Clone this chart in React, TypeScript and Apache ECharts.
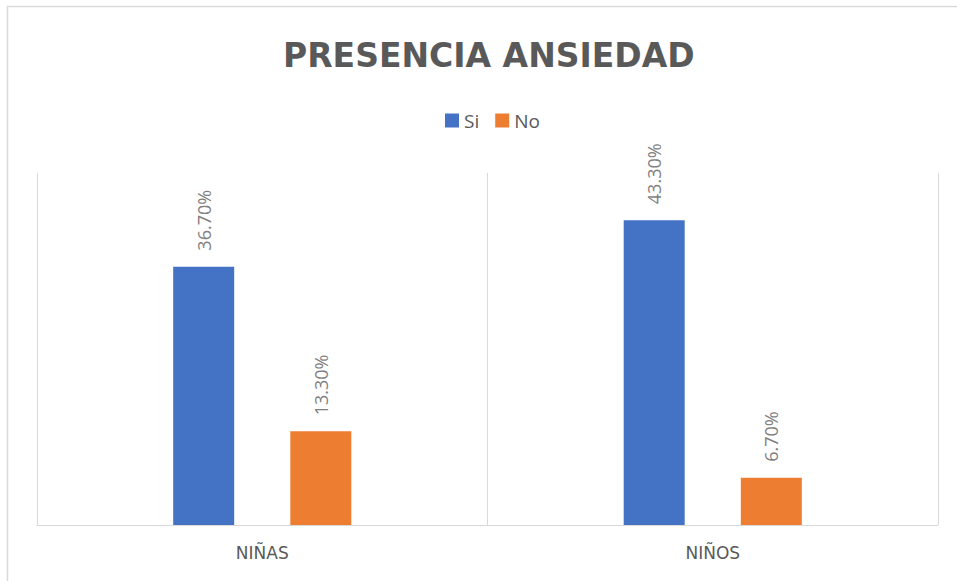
import React, { useEffect, useRef } from "react";
import * as echarts from "echarts";

const categories = ["NIÑAS", "NIÑOS"];
const siValues = [36.7, 43.3];
const noValues = [13.3, 6.7];
const seriesNames = ["Si", "No"];
const titleText = "PRESENCIA ANSIEDAD";

export default function App() {
  const ref = useRef<HTMLDivElement>(null);
  useEffect(() => {
    if (!ref.current) return;
    const chart = echarts.init(ref.current, null, { renderer: "svg" });
    const label = {
      show: true,
      position: "top",
      rotate: 90,
      align: "left",
      verticalAlign: "middle",
      distance: 16,
      color: "#7f7f7f",
      fontSize: 18,
      fontFamily: "Open Sans",
      formatter: (p: any) => p.value.toFixed(2) + "%",
    };
    chart.setOption({
      animation: false,
      backgroundColor: "#ffffff",
      title: {
        text: titleText,
        left: 278,
        top: 34,
        textStyle: {
          color: "#595959",
          fontSize: 33,
          fontWeight: "bold",
          fontFamily: "DejaVu Sans",
        },
      },
      legend: {
        data: seriesNames,
        top: 106,
        left: 440,
        itemWidth: 14,
        itemHeight: 14,
        itemGap: 16,
        icon: "rect",
        textStyle: { color: "#595959", fontSize: 19, fontFamily: "Open Sans" },
      },
      graphic: [
        {
          type: "rect",
          shape: { x: 7.5, y: 6.5, width: 1000, height: 1000 },
          style: { fill: "none", stroke: "#d9d9d9", lineWidth: 1.5 },
          silent: true,
        },
      ],
      grid: { left: 37, right: 19, top: 173, bottom: 56 },
      xAxis: {
        type: "category",
        data: categories,
        axisLine: { show: true, lineStyle: { color: "#d9d9d9", width: 1 } },
        axisTick: { show: false },
        splitLine: { show: true, lineStyle: { color: "#d9d9d9", width: 1 } },
        axisLabel: {
          color: "#595959",
          fontSize: 17,
          fontFamily: "DejaVu Sans",
          margin: 19,
        },
      },
      yAxis: {
        type: "value",
        min: 0,
        max: 50,
        show: false,
        splitLine: { show: false },
      },
      series: [
        {
          name: seriesNames[0],
          type: "bar",
          data: siValues,
          barWidth: 61,
          barGap: "92%",
          itemStyle: { color: "#4472C4" },
          label,
        },
        {
          name: seriesNames[1],
          type: "bar",
          data: noValues,
          barWidth: 61,
          barGap: "92%",
          itemStyle: { color: "#ED7D31" },
          label,
        },
      ],
    });
    return () => chart.dispose();
  }, []);
  return (
    <div
      ref={ref}
      style={{ position: "fixed", left: 0, top: 0, width: 957, height: 581 }}
    />
  );
}
